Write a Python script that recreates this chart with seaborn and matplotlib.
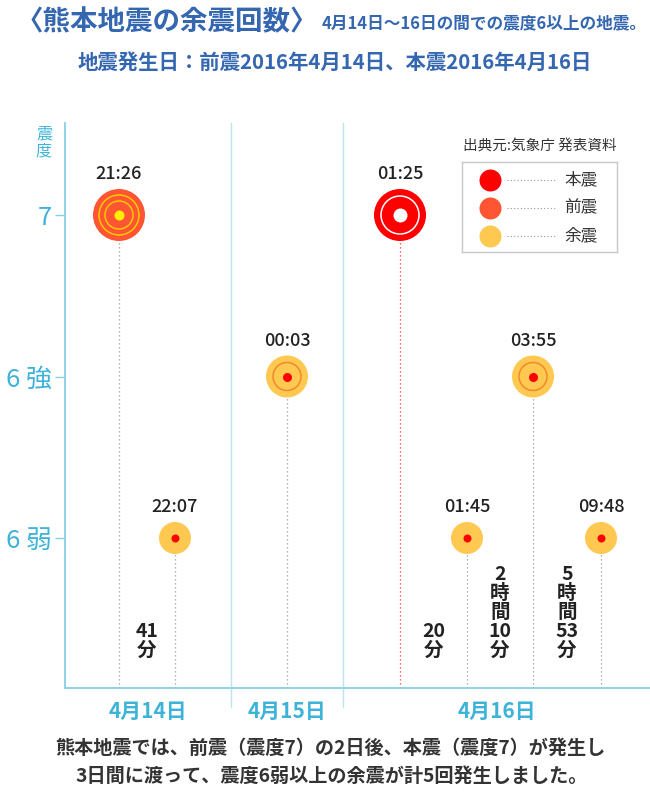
import matplotlib
matplotlib.use("Agg")
import matplotlib.pyplot as plt
import matplotlib.transforms as mtransforms
import seaborn as sns
import pandas as pd

# ---------------- data ----------------
times = ["21:26", "22:07", "00:03", "01:25", "01:45", "03:55", "09:48"]
days = ["4月14日", "4月14日", "4月15日", "4月16日", "4月16日", "4月16日", "4月16日"]
levels = ["7", "6弱", "6強", "7", "6弱", "6強", "6弱"]
kinds = ["前震", "余震", "余震", "本震", "余震", "余震", "余震"]
slots = [54, 110, 222, 335, 402, 468, 536]          # position on the timeline
intervals = ["41\n分", "20\n分", "2\n時\n間\n10\n分", "5\n時\n間\n53\n分"]
interval_pairs = [(0, 1), (3, 4), (4, 5), (5, 6)]
level_order = ["6弱", "6強", "7"]
level_tick_labels = ["6 弱", "6 強", "7"]
day_labels = ["4月14日", "4月15日", "4月16日"]
day_bounds = [0, 166, 278, 585]
legend_kinds = ["本震", "前震", "余震"]

# ---------------- style ----------------
sns.set_theme(style="white")
plt.rcParams["font.family"] = ["Noto Sans CJK JP", "DejaVu Sans"]

BLUE_AX = "#86d0e8"
BLUE_TXT = "#3db3d9"
TITLE = "#3467b0"
DARK = "#222222"
colors = {"本震": "#ff0000", "前震": "#ff5533", "余震": "#ffc850"}

def s_of(r_px):
    return (2 * r_px * 72 / 100) ** 2

df = pd.DataFrame({"time": times, "day": days, "level": levels,
                   "kind": kinds, "x": slots})
df["y"] = df["level"].map({l: i + 1 for i, l in enumerate(level_order)})

def radius(row):
    if row["kind"] in ("本震", "前震"):
        return 26
    return 21 if row["level"] == "6強" else 16

df["r"] = df.apply(radius, axis=1)
df["s"] = df["r"].map(s_of)

fig = plt.figure(figsize=(6.5, 8), dpi=100)
ax = fig.add_axes([65 / 650, 1 - 688 / 800, 585 / 650, 565 / 800])
ax.set_xlim(0, 585)
y0, y1 = 1 - 150 / 161.5, 3 + 92 / 161.5
ax.set_ylim(y0, y1)

# dotted drop lines
for _, r in df.iterrows():
    c = "#ff3030" if r["kind"] == "本震" else "#9a9a9a"
    ax.plot([r["x"], r["x"]], [y0, r["y"]], color=c, lw=0.9,
            linestyle=(0, (1, 2.2)), zorder=1)

# day separators
trans = mtransforms.blended_transform_factory(ax.transData, ax.transAxes)
for b in day_bounds[1:-1]:
    ax.plot([b, b], [-0.034, 1.0], color="#bfe4f1", lw=1.0, transform=trans,
            clip_on=False, zorder=0)

# outer circles
sizes = {v: v for v in df["s"].unique()}
sns.scatterplot(data=df, x="x", y="y", hue="kind", palette=colors,
                size="s", sizes=sizes, linewidth=0, legend=False, ax=ax,
                zorder=3)

# rings and centers
for _, r in df.iterrows():
    x, y = r["x"], r["y"]
    if r["kind"] == "前震":
        for rr in (20, 14):
            ax.scatter([x], [y], s=s_of(rr), facecolors="none",
                       edgecolors="#ffc800", linewidths=1.1, zorder=4)
        ax.scatter([x], [y], s=s_of(5), color="#fff000", linewidths=0, zorder=5)
    elif r["kind"] == "本震":
        ax.scatter([x], [y], s=s_of(19), facecolors="none",
                   edgecolors="white", linewidths=1.1, zorder=4)
        ax.scatter([x], [y], s=s_of(7), color="white", linewidths=0, zorder=5)
    else:
        if r["level"] == "6強":
            ax.scatter([x], [y], s=s_of(14), facecolors="none",
                       edgecolors="#f08a2a", linewidths=1.1, zorder=4)
            ax.scatter([x], [y], s=s_of(4.5), color="#ff0000", linewidths=0, zorder=5)
        else:
            ax.scatter([x], [y], s=s_of(4), color="#ff0000", linewidths=0, zorder=5)
    # time label
    ax.annotate(r["time"], (x, y), xytext=(0, r["r"] + 6),
                textcoords="offset pixels", ha="center", va="bottom",
                fontsize=13, fontweight="medium", color=DARK)

# interval labels
for lab, (a, b) in zip(intervals, interval_pairs):
    xm = (slots[a] + slots[b]) / 2
    ax.text(xm, 0.245, lab, ha="center", va="bottom", fontsize=14,
            fontweight="bold", color=DARK, linespacing=1.0, zorder=6)

# axes styling
for sp in ("top", "right"):
    ax.spines[sp].set_visible(False)
for sp in ("left", "bottom"):
    ax.spines[sp].set_color(BLUE_AX)
    ax.spines[sp].set_linewidth(1.3)
ax.set_yticks([1, 2, 3], level_tick_labels)
ax.tick_params(axis="y", length=7.5, width=1, color=BLUE_AX, pad=2,
               labelsize=18.5, labelcolor=BLUE_TXT, left=True)
mids = [(day_bounds[i] + day_bounds[i + 1]) / 2 for i in range(3)]
ax.set_xticks(mids, day_labels)
ax.tick_params(axis="x", length=0, pad=9, labelsize=15,
               labelcolor=BLUE_TXT, bottom=False)
for t in ax.get_xticklabels():
    t.set_fontweight("bold")
ax.set_xlabel("")
ax.set_ylabel("")
ax.grid(False)

fig.text(44 / 650, 1 - 142 / 800, "震\n度", ha="center", va="center",
         fontsize=11.5, color=BLUE_TXT, linespacing=1.0)

# legend box
lax = fig.add_axes([462 / 650, 1 - 252 / 800, 155 / 650, 90 / 800])
lax.set_xlim(0, 155)
lax.set_ylim(90, 0)
lax.set_xticks([])
lax.set_yticks([])
for sp in lax.spines.values():
    sp.set_color("#c8c8c8")
    sp.set_linewidth(1)
for i, k in enumerate(legend_kinds):
    yy = 18 + i * 28
    lax.scatter([28], [yy], s=s_of(11), color=colors[k], linewidths=0)
    lax.plot([45, 95], [yy, yy], color="#999999", lw=0.8, linestyle=(0, (1, 2)))
    lax.text(102, yy, k, ha="left", va="center", fontsize=12, color="#333333")
fig.text(540 / 650, 1 - 147 / 800, "出典元:気象庁 発表資料", ha="center",
         va="center", fontsize=10.5, color="#333333")

# titles
fig.text(16 / 650, 1 - 22 / 800, "〈熊本地震の余震回数〉", ha="left", va="center",
         fontsize=19.8, fontweight="bold", color=TITLE)
fig.text(647 / 650, 1 - 23 / 800, "4月14日〜16日の間での震度6以上の地震。",
         ha="right", va="center", fontsize=12, fontweight="bold", color=TITLE)
fig.text(335 / 650, 1 - 62 / 800, "地震発生日：前震2016年4月14日、本震2016年4月16日",
         ha="center", va="center", fontsize=14.7, fontweight="bold", color=TITLE)

# bottom note
fig.text(330 / 650, 1 - 748 / 800, "熊本地震では、前震（震度7）の2日後、本震（震度7）が発生し",
         ha="center", va="center", fontsize=13.8, fontweight="bold", color="#333333")
fig.text(332 / 650, 1 - 776 / 800, "3日間に渡って、震度6弱以上の余震が計5回発生しました。",
         ha="center", va="center", fontsize=13.8, fontweight="bold", color="#333333")

fig.savefig("out.png", dpi=100)
